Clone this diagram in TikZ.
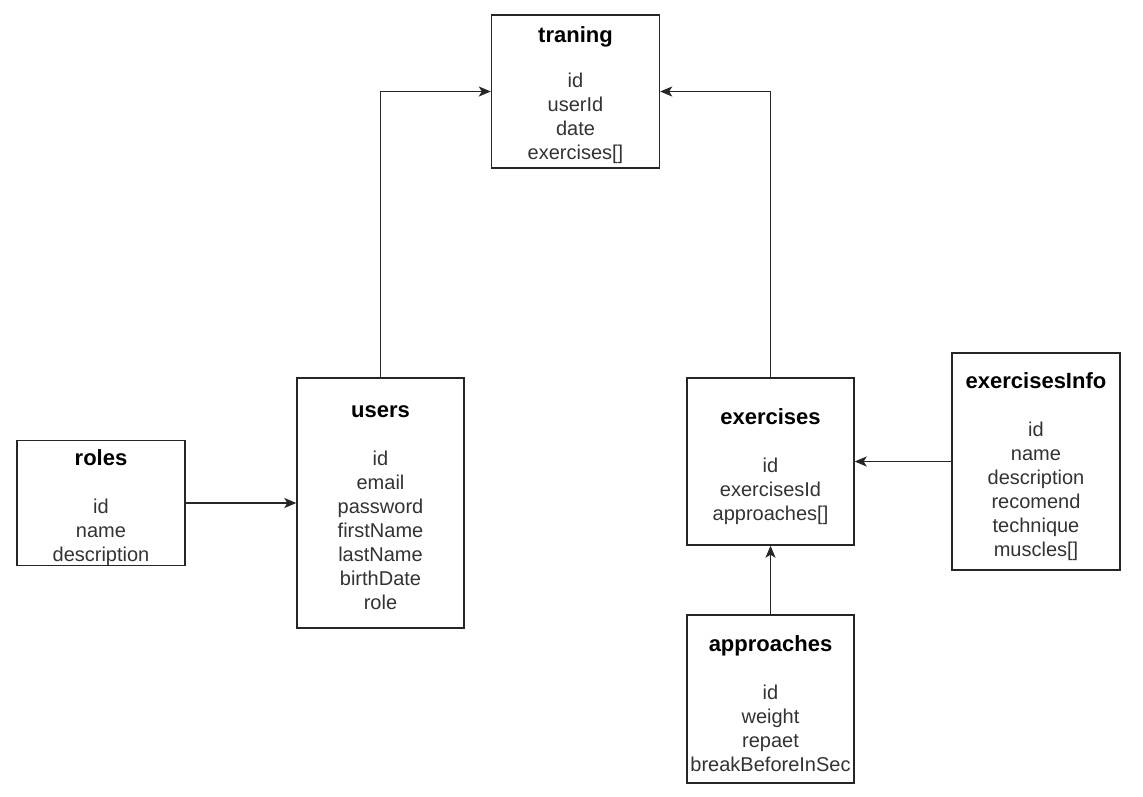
\documentclass[tikz,border=0pt]{standalone}
\usepackage{fontspec}
\setmainfont{Liberation Sans}
\usetikzlibrary{arrows.meta}
\tikzset{
  entity/.style={draw=black!85, line width=1.4pt, fill=white, inner sep=0pt},
  etext/.style={align=center, inner sep=0pt, font=\fontsize{20}{24}\selectfont, text=black!80},
  conn/.style={draw=black!85, line width=1.5pt, -{Stealth[length=12pt,width=10pt,inset=3pt]}}
}
\newcommand{\ttl}[2][24pt]{{\bfseries\fontsize{22}{24}\selectfont\color{black}#2}\\[#1]}
\begin{document}
\begin{tikzpicture}[x=1pt,y=-1pt]
\useasboundingbox (0,0) rectangle (1143,796);
\node[entity, minimum width=168pt, minimum height=153pt] (traning) at (575.5,91.5) {};
\node[etext] (traningT) at ([yshift=-3.5pt]traning.center)
  {\ttl[21pt]{traning}id\\userId\\date\\exercises[]};
\node[entity, minimum width=167pt, minimum height=250pt] (users) at (380.5,503) {};
\node[etext] (usersT) at ([yshift=-5pt]users.center)
  {\ttl{users}id\\email\\password\\firstName\\lastName\\birthDate\\role};
\node[entity, minimum width=168pt, minimum height=125pt] (roles) at (101,503) {};
\node[etext] (rolesT) at ([yshift=-5pt]roles.center)
  {\ttl{roles}id\\name\\description};
\node[entity, minimum width=167pt, minimum height=167pt] (exercises) at (770.5,461.5) {};
\node[etext] (exercisesT) at ([yshift=-5pt]exercises.center)
  {\ttl{exercises}id\\exercisesId\\approaches[]};
\node[entity, minimum width=168pt, minimum height=217pt] (info) at (1036,461.5) {};
\node[etext] (infoT) at ([yshift=-5pt]info.center)
  {\ttl{exercisesInfo}id\\name\\description\\recomend\\technique\\muscles[]};
\node[entity, minimum width=167pt, minimum height=168pt] (approaches) at (770.5,699) {};
\node[etext] (approachesT) at ([yshift=-5pt]approaches.center)
  {\ttl{approaches}id\\weight\\repaet\\breakBeforeInSec};
\draw[conn] (users.north) |- (traning.west);
\draw[conn] (exercises.north) |- (traning.east);
\draw[conn] (roles.east) -- (users.west);
\draw[conn] (info.west) -- (exercises.east);
\draw[conn] (approaches.north) -- (exercises.south);
\end{tikzpicture}
\end{document}
